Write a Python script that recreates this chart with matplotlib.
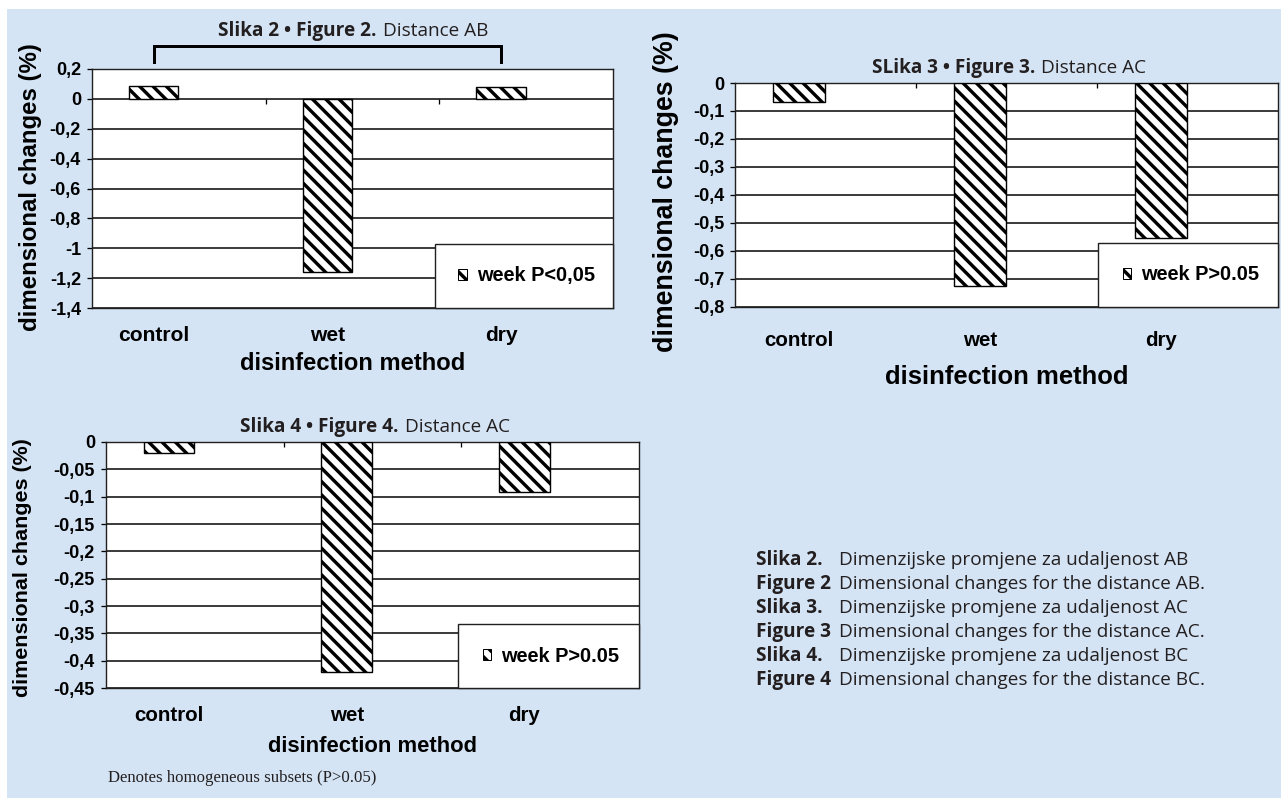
import numpy as np
import matplotlib
matplotlib.use("Agg")
import matplotlib.pyplot as plt
from matplotlib.patches import Rectangle, Patch
import matplotlib.transforms as mtransforms

# ---------------- data ----------------
categories = ["control", "wet", "dry"]

ab_values = [0.088, -1.162, 0.078]
ac_values = [-0.069, -0.724, -0.555]
bc_values = [-0.0195, -0.421, -0.091]

ab_yticks = [0.2, 0, -0.2, -0.4, -0.6, -0.8, -1.0, -1.2, -1.4]
ab_yticklabels = ["0,2", "0", "-0,2", "-0,4", "-0,6", "-0,8", "-1", "-1,2", "-1,4"]
ac_yticks = [0, -0.1, -0.2, -0.3, -0.4, -0.5, -0.6, -0.7, -0.8]
ac_yticklabels = ["0", "-0,1", "-0,2", "-0,3", "-0,4", "-0,5", "-0,6", "-0,7", "-0,8"]
bc_yticks = [0, -0.05, -0.1, -0.15, -0.2, -0.25, -0.3, -0.35, -0.4, -0.45]
bc_yticklabels = ["0", "-0,05", "-0,1", "-0,15", "-0,2", "-0,25", "-0,3", "-0,35", "-0,4", "-0,45"]

legend_labels = ["week P<0,05", "week P>0.05", "week P>0.05"]
titles_bold = ["Slika 2 \u2022 Figure 2.", "SLika 3 \u2022 Figure 3.", "Slika 4 \u2022 Figure 4."]
titles_regular = ["Distance AB", "Distance AC", "Distance AC"]

caption_heads = ["Slika 2.", "Figure 2", "Slika 3.", "Figure 3", "Slika 4.", "Figure 4"]
caption_texts = [
    "Dimenzijske promjene za udaljenost AB",
    "Dimensional changes for the distance AB.",
    "Dimenzijske promjene za udaljenost AC",
    "Dimensional changes for the distance AC.",
    "Dimenzijske promjene za udaljenost BC",
    "Dimensional changes for the distance BC.",
]
footnote = "Denotes homogeneous subsets (P>0.05)"
ylabel_text = "dimensional changes (%)"
xlabel_text = "disinfection method"

# ---------------- helpers ----------------
W, H, DPI = 1281, 798, 120
BG = "#d4e4f4"
ARIAL = "Liberation Sans"
SANS = "Open Sans"
SERIF = "Liberation Serif"
HATCH = "\\\\\\"
plt.rcParams["hatch.linewidth"] = 3.4 * 72 / DPI
plt.rcParams["hatch.color"] = "black"


def pt(px):
    return px * 72.0 / DPI


def fx(x):
    return x / W


def fy(y):
    return 1 - y / H


fig = plt.figure(figsize=(W / DPI, H / DPI), dpi=DPI, facecolor="white")
fig.patches.append(Rectangle((fx(7), 0), 1 - fx(7), fy(9), transform=fig.transFigure,
                             facecolor=BG, edgecolor="none", zorder=-10))

OFF = 0.145
BAR_W = 0.285


def make_chart(box, values, yticks, yticklabels, ylim, leg_label, leg_box,
               ylab_font, ylab_pos, tick_font, xt_font, xt_pad, xlab_font, xlab_y):
    l, t, r, b = box
    ax = fig.add_axes([fx(l), fy(b), (r - l) / W, (b - t) / H])
    ax.set_facecolor("white")
    x = np.arange(len(categories))
    ax.bar(x, values, width=BAR_W, facecolor="white", edgecolor="black",
           hatch=HATCH, linewidth=pt(1.4), zorder=3)
    ax.set_xlim(-0.5 + OFF, len(categories) - 0.5 + OFF)
    ax.set_ylim(*ylim)
    ax.set_yticks(yticks)
    ax.set_yticklabels(yticklabels, fontfamily=ARIAL, fontweight="bold",
                       fontsize=pt(tick_font))
    ax.set_xticks(x)
    ax.set_xticklabels(categories, fontfamily=ARIAL, fontweight="bold",
                       fontsize=pt(xt_font))
    ax.tick_params(axis="x", length=0, pad=pt(xt_pad))
    ax.tick_params(axis="y", length=pt(5), width=pt(1.3), pad=pt(6), color="black")
    ax.yaxis.grid(True, color="black", linewidth=pt(1.5))
    ax.set_axisbelow(True)
    for s in ax.spines.values():
        s.set_color("#202020")
        s.set_linewidth(pt(1.4))
    # category boundary marks on zero line
    pxu = (b - t) / (ylim[1] - ylim[0])
    ax.vlines([0.5 + OFF, 1.5 + OFF], 0, -5 / pxu, color="black", linewidth=pt(1.3), zorder=2)
    # legend box
    lx0 = (leg_box[0] - l) / (r - l)
    ly1 = (b - leg_box[1]) / (b - t)
    ax.add_patch(Rectangle((lx0, 0), 1 - lx0, ly1, transform=ax.transAxes,
                           facecolor="white", edgecolor="#202020", linewidth=pt(1.4),
                           zorder=5, clip_on=False))
    handle = Patch(facecolor="white", edgecolor="black", hatch=HATCH, linewidth=pt(1))
    leg = ax.legend([handle], [leg_label], loc="center",
                    bbox_to_anchor=((lx0 + 1) / 2 + 0.005, ly1 / 2),
                    frameon=False, handlelength=0.42, handleheight=0.42,
                    handletextpad=0.5, borderpad=0,
                    prop={"family": ARIAL, "weight": "bold", "size": pt(20)})
    leg.set_zorder(6)
    # axis labels
    ax.set_ylabel(ylabel_text, fontfamily=ARIAL, fontweight="bold",
                  fontsize=pt(ylab_font), va="center", ha="center")
    ax.yaxis.set_label_coords((ylab_pos[0] - l) / (r - l), (b - ylab_pos[1]) / (b - t))
    ax.set_xlabel(xlabel_text, fontfamily=ARIAL, fontweight="bold",
                  fontsize=pt(xlab_font), va="center", ha="center")
    ax.xaxis.set_label_coords(0.5, (b - xlab_y) / (b - t))
    return ax


ax1 = make_chart((92, 69, 613, 308), ab_values, ab_yticks, ab_yticklabels, (-1.4, 0.2),
                 legend_labels[0], (435, 244), 24, (31, 187), 18, 21, 18, 23.7, 363)
ax2 = make_chart((735, 83, 1278, 307), ac_values, ac_yticks, ac_yticklabels, (-0.8, 0),
                 legend_labels[1], (1098, 243), 26.7, (666, 192), 18, 20.5, 24, 25.7, 377)
ax3 = make_chart((106, 442, 639, 688), bc_values, bc_yticks, bc_yticklabels, (-0.45, 0),
                 legend_labels[2], (458, 624), 21.5, (23, 568), 18, 20.5, 18, 22, 747)

# titles (bold + regular parts)
title_pos = [(379, 31), (1037, 68), (401, 427)]
for (xs, ys), tb, tr in zip(title_pos, titles_bold, titles_regular):
    fig.text(fx(xs - 2), fy(ys), tb, ha="right", va="center", fontfamily=SANS,
             fontweight="bold", fontsize=pt(19), color="#231f20")
    fig.text(fx(xs + 4), fy(ys), tr, ha="left", va="center", fontfamily=SANS,
             fontsize=pt(19), color="#231f20")

# bracket over chart 1 (control .. dry)
trans = mtransforms.blended_transform_factory(ax1.transData, ax1.transAxes)
ax1.plot([0, 0, 2, 2], [1 + 7 / 239, 1 + 23 / 239, 1 + 23 / 239, 1 + 7 / 239],
         transform=trans, color="black", linewidth=pt(3), clip_on=False,
         solid_joinstyle="miter")

# captions
for i, (hd, tx) in enumerate(zip(caption_heads, caption_texts)):
    yy = 560 + 24 * i
    fig.text(fx(756), fy(yy), hd, ha="left", va="center", fontfamily=SANS,
             fontweight="bold", fontsize=pt(19), color="#231f20")
    fig.text(fx(839), fy(yy), tx, ha="left", va="center", fontfamily=SANS,
             fontsize=pt(19), color="#231f20")

fig.text(fx(108), fy(778), footnote, ha="left", va="center", fontfamily=SERIF,
         fontsize=pt(16.7), color="#231f20")

fig.savefig("out.png", dpi=DPI, facecolor="white")
